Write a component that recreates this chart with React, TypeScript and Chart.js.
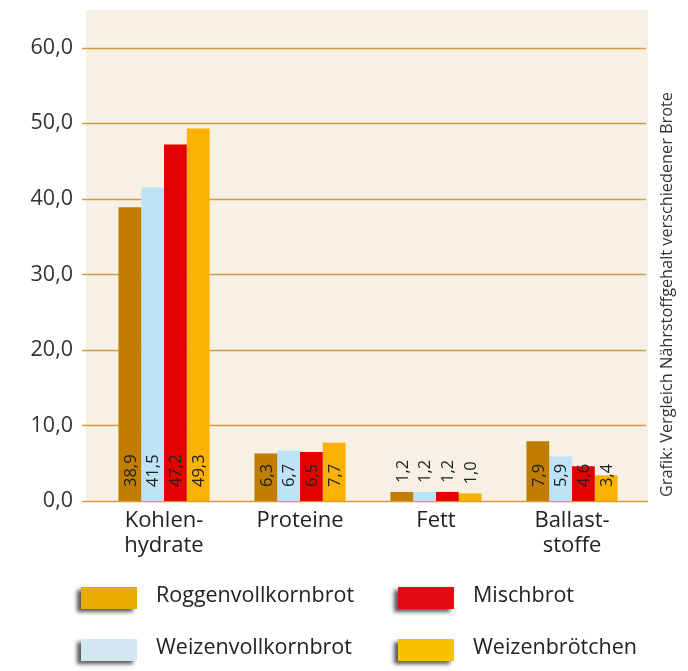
import { useEffect, useRef } from 'react';
import { Chart, registerables } from 'chart.js';

Chart.register(...registerables);

const categories: (string | string[])[] = [['Kohlen-', 'hydrate'], 'Proteine', 'Fett', ['Ballast-', 'stoffe']];
const seriesNames = ['Roggenvollkornbrot', 'Weizenvollkornbrot', 'Mischbrot', 'Weizenbrötchen'];
const roggenvollkornbrot = [38.9, 6.3, 1.2, 7.9];
const weizenvollkornbrot = [41.5, 6.7, 1.2, 5.9];
const mischbrot = [47.2, 6.5, 1.2, 4.6];
const weizenbroetchen = [49.3, 7.7, 1.0, 3.4];
const seriesValues = [roggenvollkornbrot, weizenvollkornbrot, mischbrot, weizenbroetchen];
const barColors = ['#c07d00', '#bee3f7', '#e30000', '#f9b200'];
const legendColors = ['#e9ab00', '#d3e7f3', '#e30a12', '#f9c200'];
const yMin = 0;
const yMax = 65;
const yStep = 10;
const sideNote = 'Grafik: Vergleich Nährstoffgehalt verschiedener Brote';

const FONT = '"Open Sans", "DejaVu Sans", sans-serif';
const fmt = (v: number) => v.toFixed(1).replace('.', ',');

export default function App() {
  const ref = useRef<HTMLCanvasElement | null>(null);

  useEffect(() => {
    if (!ref.current) return;

    const backgroundPlugin = {
      id: 'bgGrid',
      beforeDatasetsDraw(chart: any) {
        const ctx = chart.ctx;
        const y = chart.scales.y;
        const top = chart.chartArea.top;
        const bottom = y.getPixelForValue(0);
        ctx.save();
        ctx.fillStyle = '#f7f0e5';
        ctx.fillRect(86, top, 648 - 86, bottom - top + 1);
        ctx.strokeStyle = '#d39c44';
        ctx.lineWidth = 1.6;
        y.ticks.forEach((t: any) => {
          const py = Math.round(y.getPixelForValue(t.value)) + 0.5;
          ctx.beginPath();
          ctx.moveTo(82, py);
          ctx.lineTo(t.value === 0 ? 648 : 646, py);
          ctx.stroke();
        });
        ctx.restore();
      },
    };

    const labelsPlugin = {
      id: 'valueLabels',
      afterDatasetsDraw(chart: any) {
        const ctx = chart.ctx;
        ctx.save();
        ctx.font = `16.5px ${FONT}`;
        ctx.fillStyle = '#222';
        ctx.textAlign = 'left';
        ctx.textBaseline = 'middle';
        chart.data.datasets.forEach((ds: any, di: number) => {
          const meta = chart.getDatasetMeta(di);
          meta.data.forEach((bar: any, i: number) => {
            const h = bar.base - bar.y;
            const start = h > 15 ? bar.base - 14 : bar.y - 9;
            ctx.save();
            ctx.translate(bar.x, start);
            ctx.rotate(-Math.PI / 2);
            ctx.fillText(fmt(ds.data[i]), 0, 1);
            ctx.restore();
          });
        });
        ctx.restore();
      },
    };

    const extrasPlugin = {
      id: 'extras',
      afterDraw(chart: any) {
        const ctx = chart.ctx;
        ctx.save();
        ctx.font = `16.5px ${FONT}`;
        ctx.fillStyle = '#333';
        ctx.textAlign = 'left';
        ctx.textBaseline = 'middle';
        ctx.save();
        ctx.translate(667, 497);
        ctx.rotate(-Math.PI / 2);
        ctx.fillText(sideNote, 0, 0, 405);
        ctx.restore();
        const colX = [81, 398];
        const rowY = [587, 639];
        seriesNames.forEach((name, i) => {
          const col = i < 2 ? 0 : 1;
          const row = i % 2;
          const x = colX[col];
          const y = rowY[row];
          ctx.save();
          ctx.shadowColor = 'rgba(0,0,0,0.65)';
          ctx.shadowBlur = 4;
          ctx.shadowOffsetX = -4;
          ctx.shadowOffsetY = 3;
          ctx.fillStyle = legendColors[i];
          ctx.fillRect(x, y, 56, 22);
          ctx.restore();
          ctx.font = `21.5px ${FONT}`;
          ctx.fillStyle = '#222';
          ctx.textAlign = 'left';
          ctx.textBaseline = 'middle';
          ctx.fillText(name, x + 75, y + 9, 200);
        });
        ctx.restore();
      },
    };

    const chart = new Chart(ref.current, {
      type: 'bar',
      data: {
        labels: categories as any,
        datasets: seriesNames.map((name, i) => ({
          label: name,
          data: seriesValues[i],
          backgroundColor: barColors[i],
          borderWidth: 0,
          barPercentage: 1,
          categoryPercentage: 0.67,
        })),
      },
      options: {
        animation: false,
        responsive: false,
        maintainAspectRatio: false,
        layout: { padding: { left: 0, right: 48, top: 10, bottom: 0 } },
        plugins: {
          legend: { display: false },
          tooltip: { enabled: false },
        },
        scales: {
          x: {
            grid: { display: false, drawTicks: false },
            border: { display: false },
            ticks: {
              autoSkip: false,
              maxRotation: 0,
              minRotation: 0,
              padding: 8,
              color: '#222',
              font: { family: FONT, size: 22, lineHeight: 1.1 },
            },
            afterFit(scale: any) {
              scale.height = 170;
              scale.paddingLeft = 0;
              scale.paddingRight = 0;
            },
          },
          y: {
            min: yMin,
            max: yMax,
            grid: { display: false, drawTicks: false },
            border: { display: false },
            ticks: {
              stepSize: yStep,
              includeBounds: false,
              padding: 23,
              color: '#333',
              font: { family: FONT, size: 21.5 },
              callback: (v: any) => fmt(Number(v)),
            },
            afterFit(scale: any) {
              scale.width = 96;
              scale.paddingTop = 0;
              scale.paddingBottom = 0;
            },
          },
        },
      },
      plugins: [backgroundPlugin, labelsPlugin, extrasPlugin],
    });

    return () => chart.destroy();
  }, []);

  return (
    <div style={{ position: 'absolute', left: 0, top: 0, width: 688, height: 671 }}>
      <canvas ref={ref} width={688} height={671} style={{ width: 688, height: 671 }} />
    </div>
  );
}
